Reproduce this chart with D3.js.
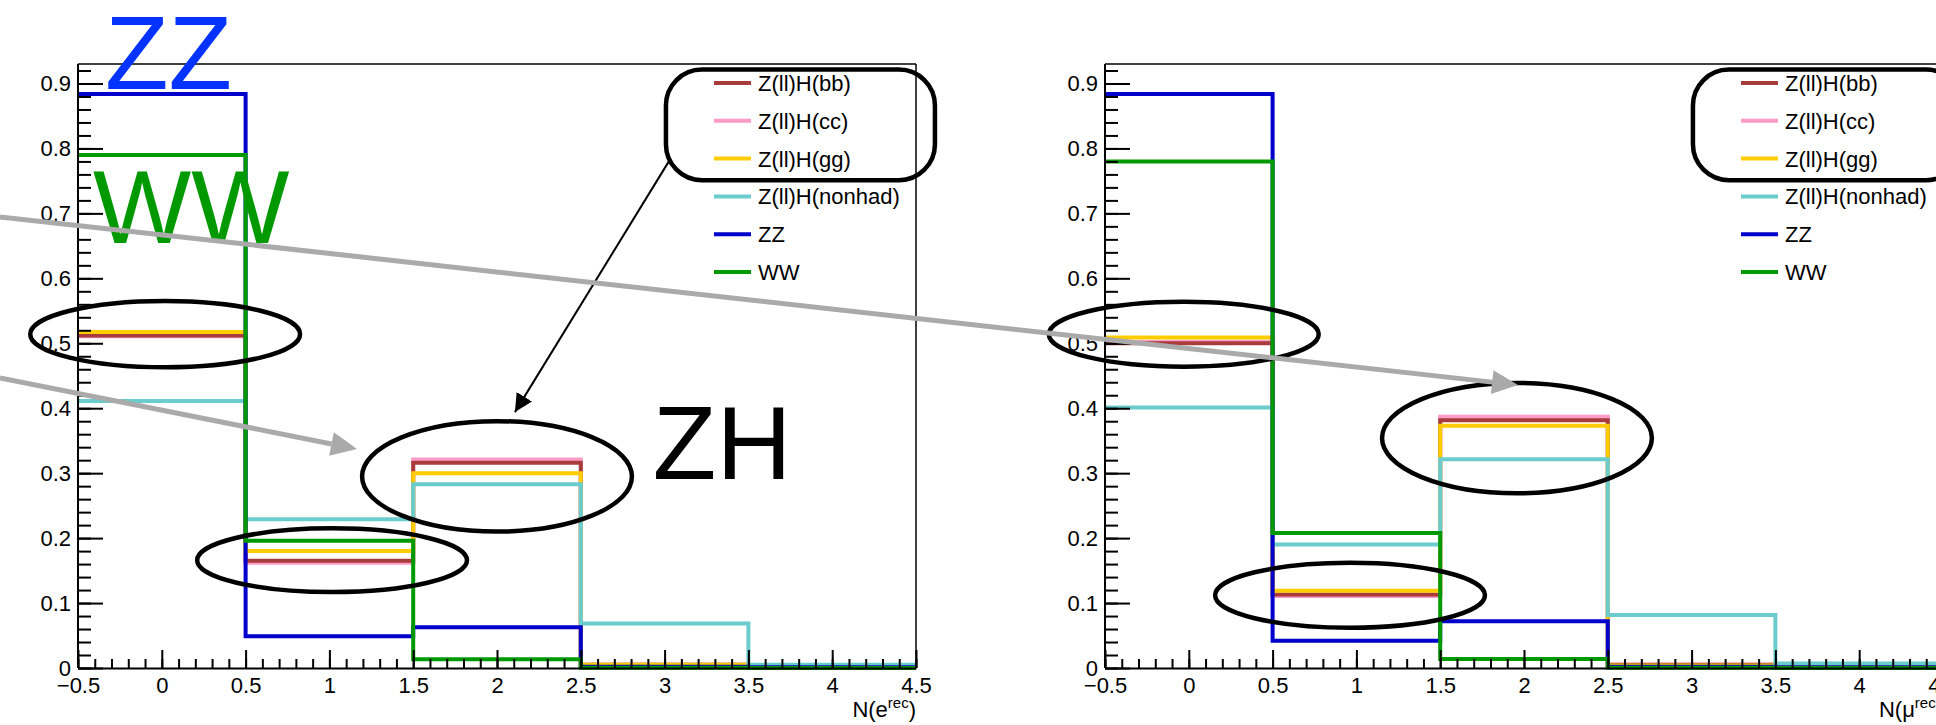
<!doctype html>
<html>
<head>
<meta charset="utf-8">
<script src="https://cdn.jsdelivr.net/npm/d3@7"></script>
<style>
    html, body { margin: 0; padding: 0; background: #fff; }
    svg { display: block; overflow: hidden; font-family: "Liberation Sans", Arial, Helvetica, sans-serif; }
</style>
<script>
    // bin centres and edges (number of reconstructed leptons)
    var binEdges = [-0.5, 0.5, 1.5, 2.5, 3.5, 4.5];
    var seriesNames = ["Z(ll)H(bb)", "Z(ll)H(cc)", "Z(ll)H(gg)", "Z(ll)H(nonhad)", "ZZ", "WW"];
    var xTickValues = [-0.5, 0, 0.5, 1, 1.5, 2, 2.5, 3, 3.5, 4, 4.5];
    var yTickValues = [0, 0.1, 0.2, 0.3, 0.4, 0.5, 0.6, 0.7, 0.8, 0.9];

    // electrons, normalised
    var elecBB     = [0.512, 0.165, 0.316, 0.005, 0.002];
    var elecCC     = [0.511, 0.162, 0.321, 0.005, 0.002];
    var elecGG     = [0.5175, 0.180, 0.300, 0.005, 0.002];
    var elecNonhad = [0.411, 0.229, 0.283, 0.0687, 0.005];
    var elecZZ     = [0.884, 0.049, 0.0626, 0.002, 0.001];
    var elecWW     = [0.790, 0.196, 0.0134, 0.0005, 0.0];

    // muons, normalised
    var muBB     = [0.500, 0.113, 0.3815, 0.005, 0.002];
    var muCC     = [0.502, 0.111, 0.387, 0.005, 0.002];
    var muGG     = [0.509, 0.119, 0.373, 0.004, 0.002];
    var muNonhad = [0.401, 0.190, 0.3215, 0.0815, 0.007];
    var muZZ     = [0.884, 0.042, 0.072, 0.002, 0.001];
    var muWW     = [0.780, 0.208, 0.014, 0.0005, 0.0];

    var colors = ["#a83c3c", "#fd9ac8", "#ffcc00", "#6acccc", "#0000cc", "#009900"];
    var drawOrder = [1, 0, 2, 3, 4, 5];

    var W = 1936, H = 725;
    var top_ = 64, bottom_ = 668;

    var panels = [
        { left: 78,   right: 916,  series: [elecBB, elecCC, elecGG, elecNonhad, elecZZ, elecWW], particle: "e",
          // annotation ellipses in data units: cx, cy, rx, ry
          ellipses: [[0.02, 0.514, 0.805, 0.051], [1.016, 0.166, 0.805, 0.049], [2.0, 0.295, 0.805, 0.085]] },
        { left: 1105, right: 1943, series: [muBB, muCC, muGG, muNonhad, muZZ, muWW], particle: "\u03bc",
          ellipses: [[-0.03, 0.514, 0.805, 0.050], [0.962, 0.112, 0.805, 0.050], [1.958, 0.354, 0.805, 0.085]] }
    ];

    var renderChart = function () {
        var svg = d3.select("#viz").append("svg")
            .attr("width", W)
            .attr("height", H);

        svg.append("defs").append("marker")
            .attr("id", "blackHead")
            .attr("viewBox", "0 0 10 10")
            .attr("refX", 10).attr("refY", 5)
            .attr("markerWidth", 9).attr("markerHeight", 9)
            .attr("markerUnits", "strokeWidth")
            .attr("orient", "auto")
            .append("path").attr("d", "M0,0 L10,5 L0,10 z").attr("fill", "#000");

        var annotations = [];

        panels.forEach(function (p, pi) {
            var x = d3.scaleLinear().domain([-0.5, 4.5]).range([p.left, p.right]);
            var y = d3.scaleLinear().domain([0, 0.93]).range([bottom_, top_]);
            var g = svg.append("g");

            // histograms
            var line = d3.line()
                .x(function (d) { return x(d[0]); })
                .y(function (d) { return y(d[1]); })
                .curve(d3.curveStepAfter);

            drawOrder.forEach(function (si) {
                var vals = p.series[si];
                var pts = binEdges.map(function (e, i) {
                    return [e, vals[Math.min(i, vals.length - 1)]];
                });
                g.append("path")
                    .attr("d", line(pts))
                    .attr("fill", "none")
                    .attr("stroke", colors[si])
                    .attr("stroke-width", 4);
            });

            // frame top and right
            g.append("line").attr("x1", p.left).attr("x2", p.right).attr("y1", top_).attr("y2", top_)
                .attr("stroke", "#000").attr("stroke-width", 1.5);
            g.append("line").attr("x1", p.right).attr("x2", p.right).attr("y1", top_).attr("y2", bottom_)
                .attr("stroke", "#000").attr("stroke-width", 1.5);

            // y axis: minor then major
            g.append("g").attr("transform", "translate(" + p.left + ",0)")
                .call(d3.axisLeft(y).tickValues(d3.range(0, 93, 2).map(function (v) { return v / 100; }))
                    .tickSize(-13).tickSizeOuter(0).tickFormat(""))
                .call(function (a) { a.select(".domain").remove(); });
            var ya = g.append("g").attr("transform", "translate(" + p.left + ",0)")
                .call(d3.axisLeft(y).tickValues(yTickValues).tickSize(-25).tickSizeOuter(0)
                    .tickPadding(7).tickFormat(d3.format("~g")));
            ya.select(".domain").attr("d", "M0," + top_ + "V" + bottom_);

            // x axis: minor then major
            g.append("g").attr("transform", "translate(0," + bottom_ + ")")
                .call(d3.axisBottom(x).tickValues(d3.range(-5, 46, 1).map(function (v) { return v / 10; }))
                    .tickSize(-9).tickSizeOuter(0).tickFormat(""))
                .call(function (a) { a.select(".domain").remove(); });
            g.append("g").attr("transform", "translate(0," + bottom_ + ")")
                .call(d3.axisBottom(x).tickValues(xTickValues).tickSize(-18).tickSizeOuter(0)
                    .tickPadding(9).tickFormat(d3.format("~g")));

            g.selectAll(".tick line").attr("stroke", "#000").attr("stroke-width", 2);
            g.selectAll(".domain").attr("stroke", "#000").attr("stroke-width", 2);
            g.selectAll(".tick text").attr("font-size", 22).attr("fill", "#000")
                .attr("font-family", "'Liberation Sans', Arial, sans-serif");

            // axis title
            var t = g.append("text")
                .attr("x", p.right).attr("y", 717)
                .attr("text-anchor", "end")
                .attr("font-size", 22);
            t.append("tspan").text("N(" + p.particle);
            t.append("tspan").attr("font-size", 15).attr("dy", -9).text("rec");
            t.append("tspan").attr("dy", 9).text(")");

            // legend
            var lg = g.append("g").attr("transform", "translate(" + (p.left + 636) + "," + (top_ + 19) + ")");
            seriesNames.forEach(function (name, i) {
                var row = lg.append("g").attr("transform", "translate(0," + (i * 37.8) + ")");
                row.append("line").attr("x1", 0).attr("x2", 37).attr("y1", 0).attr("y2", 0)
                    .attr("stroke", colors[i]).attr("stroke-width", 4);
                row.append("text").attr("x", 44).attr("y", 0).attr("dy", "0.36em")
                    .attr("font-size", 22).attr("fill", "#000").text(name);
            });

            annotations.push({ g: g, x: x, y: y, p: p });
        });

        // annotations on top
        var ann = svg.append("g");
        annotations.forEach(function (a) {
            a.p.ellipses.forEach(function (e) {
                ann.append("ellipse")
                    .attr("cx", a.x(e[0])).attr("cy", a.y(e[1]))
                    .attr("rx", a.x(e[2]) - a.x(0)).attr("ry", a.y(0) - a.y(e[3]))
                    .attr("fill", "none").attr("stroke", "#000").attr("stroke-width", 4.5);
            });
            // rounded box around the hadronic ZH legend entries
            ann.append("rect")
                .attr("x", a.x(3.008)).attr("y", a.y(0.9215))
                .attr("width", a.x(4.613) - a.x(3.008)).attr("height", a.y(0.751) - a.y(0.9215))
                .attr("rx", 36).attr("ry", 36)
                .attr("fill", "none").attr("stroke", "#000").attr("stroke-width", 4.5);
        });

        var L = annotations[0];
        ann.append("line")
            .attr("x1", L.x(3.03)).attr("y1", L.y(0.782))
            .attr("x2", L.x(2.107)).attr("y2", L.y(0.394))
            .attr("stroke", "#000").attr("stroke-width", 2)
            .attr("marker-end", "url(#blackHead)");

        // big labels
        ann.append("text").attr("x", L.x(-0.339)).attr("y", L.y(0.891))
            .attr("font-size", 104).attr("fill", "#0433ff").text("ZZ");
        ann.append("text").attr("x", L.x(-0.41)).attr("y", L.y(0.654))
            .attr("font-size", 104).attr("fill", "#009a00").text("WW");
        ann.append("text").attr("x", L.x(2.93)).attr("y", L.y(0.291))
            .attr("font-size", 104).attr("fill", "#000").text("ZH");

        // gray arrows (span across panels, pixel positions)
        var grayArrows = [[0, 217, 1518, 385], [0, 378, 357, 449]];
        grayArrows.forEach(function (ga) {
            var ang = Math.atan2(ga[3] - ga[1], ga[2] - ga[0]);
            var len = 26, hw = 12;
            var bx = ga[2] - len * Math.cos(ang), by = ga[3] - len * Math.sin(ang);
            ann.append("line")
                .attr("x1", ga[0]).attr("y1", ga[1]).attr("x2", bx).attr("y2", by)
                .attr("stroke", "#aaaaaa").attr("stroke-width", 5);
            var px = -Math.sin(ang) * hw, py = Math.cos(ang) * hw;
            ann.append("path")
                .attr("d", "M" + ga[2] + "," + ga[3] + "L" + (bx + px) + "," + (by + py) + "L" + (bx - px) + "," + (by - py) + "Z")
                .attr("fill", "#aaaaaa");
        });
    };

    document.addEventListener("DOMContentLoaded", renderChart);
</script>
</head>
<body>
    <div id="viz"></div>
</body>
</html>
